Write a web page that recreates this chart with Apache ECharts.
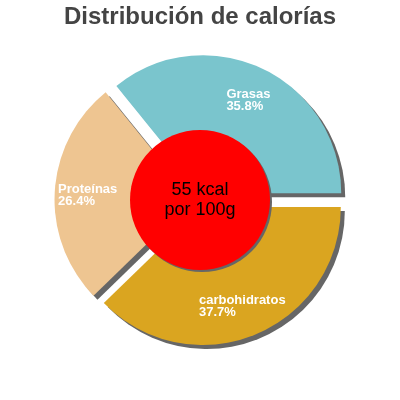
<!DOCTYPE html>
<html>
<head>
<meta charset="utf-8">
<script src="https://cdn.jsdelivr.net/npm/echarts@6/dist/echarts.min.js"></script>
<style>html,body{margin:0;padding:0;background:#fff}#c{width:400px;height:400px}</style>
</head>
<body>
<div id="c"></div>
<script>
var titleText = 'Distribución de calorías';
var categories = ['Grasas', 'Proteínas', 'carbohidratos'];
var values = [35.8, 26.4, 37.7];
var sliceColors = ['#7AC5CD', '#EEC591', '#DAA520'];
var centerLines = ['55 kcal', 'por 100g'];

var sliceData = categories.map(function (n, i) {
  return { name: n, value: values[i], selected: true, itemStyle: { color: sliceColors[i] } };
});
var labelData = categories.map(function (n, i) {
  return { name: n, value: values[i], selected: true };
});

var chart = echarts.init(document.getElementById('c'), null, { renderer: 'canvas' });
chart.setOption({
  animation: false,
  title: {
    text: titleText, left: 'center', top: 0,
    textStyle: { fontFamily: 'Liberation Sans', fontSize: 24, fontWeight: 'bold', color: '#444444' }
  },
  series: [
    {
      type: 'pie', silent: true, center: ['50%', '50%'], radius: [0, 138],
      startAngle: 0, clockwise: false, selectedMode: 'multiple', selectedOffset: 7.5,
      label: { show: false }, labelLine: { show: false },
      itemStyle: { shadowColor: '#666666', shadowBlur: 0, shadowOffsetX: 4, shadowOffsetY: 4 },
      emphasis: { disabled: true }, select: { itemStyle: { borderWidth: 0 } },
      data: sliceData
    },
    {
      type: 'pie', silent: true, center: ['50%', '50%'], radius: [66, 138],
      startAngle: 0, clockwise: false, selectedMode: 'multiple', selectedOffset: 7.5,
      itemStyle: { color: 'rgba(0,0,0,0)' },
      select: { itemStyle: { color: 'rgba(0,0,0,0)', borderWidth: 0 } },
      emphasis: { disabled: true },
      label: {
        show: true, position: 'inside', formatter: '{b}\n{c}%',
        color: '#ffffff', fontFamily: 'Liberation Sans', fontWeight: 'bold', fontSize: 13, lineHeight: 12.5
      },
      labelLine: { show: false },
      labelLayout: function (p) {
        return { align: 'left', dx: -p.labelRect.width / 2, dy: 2 };
      },
      data: labelData
    },
    {
      type: 'pie', silent: true, center: ['50%', '50%'], radius: [0, 70],
      itemStyle: { color: '#FF0000', shadowColor: '#666666', shadowBlur: 0, shadowOffsetX: 2, shadowOffsetY: 2 },
      emphasis: { disabled: true },
      label: {
        show: true, position: 'center', formatter: centerLines.join('\n'),
        color: '#000000', fontFamily: 'Liberation Sans', fontSize: 18, lineHeight: 20
      },
      labelLine: { show: false },
      data: [{ name: 'total', value: 1 }]
    }
  ]
});
</script>
</body>
</html>
